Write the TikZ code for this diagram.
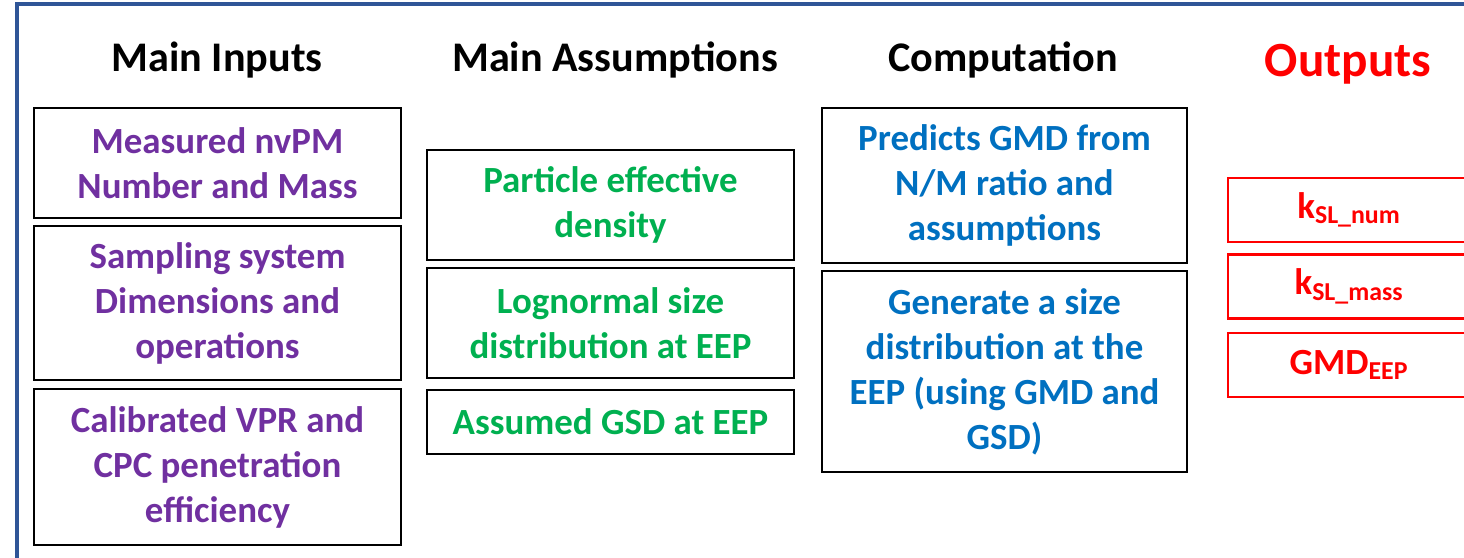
\documentclass[tikz,border=0pt]{standalone}
\usepackage{fontspec}
\setmainfont{Carlito}
\usepackage{tikz}
\usepackage{xcolor}

\definecolor{inpurple}{HTML}{7030A0}
\definecolor{asgreen}{HTML}{00B050}
\definecolor{cpblue}{HTML}{0070C0}
\definecolor{framblue}{HTML}{2F5597}

\tikzset{
  head/.style={font=\fontsize{24}{29}\selectfont\bfseries},
  box/.style={draw, line width=1.2pt, inner sep=0pt, outer sep=0pt, align=center,
    font=\fontsize{21}{25.6}\selectfont\bfseries},
  outbox/.style={box, draw=red, text=red, minimum width=4.84cm, minimum height=1.28cm}
}

\begin{document}
\begin{tikzpicture}
    \useasboundingbox (0,0) rectangle (29.28,11.14);
    %% frame round the slide
    \draw [framblue, line width=2.4pt] (0.34,-0.1) -- (0.34,11.06) -- (29.5,11.06);

    %% column headings
    \node [head] (h1) at (4.34,9.94) {Main Inputs};
    \node [head] (h2) at (12.3,9.94) {Main Assumptions};
    \node [head] (h3) at (20.06,9.94) {Computation};
    \node [head, font=\fontsize{28}{33}\selectfont\bfseries, text=red] (h4) at (26.96,9.86) {Outputs};

    %% inputs
    \node [box, text=inpurple, minimum width=7.34cm, minimum height=2.2cm] (in1) at (4.35,7.88)
      {Measured nvPM\\ Number and Mass};
    \node [box, text=inpurple, minimum width=7.34cm, minimum height=3.08cm] (in2) at (4.35,5.08)
      {Sampling system\\ Dimensions and\\ operations};
    \node [box, text=inpurple, minimum width=7.34cm, minimum height=3.12cm] (in3) at (4.35,1.8)
      {Calibrated VPR and\\ CPC penetration\\ efficiency};

    %% assumptions
    \node [box, text=asgreen, minimum width=7.34cm, minimum height=2.2cm] (as1) at (12.21,7.04)
      {Particle effective\\ density};
    \node [box, text=asgreen, minimum width=7.34cm, minimum height=2.2cm] (as2) at (12.21,4.68)
      {Lognormal size\\ distribution at EEP};
    \node [box, text=asgreen, minimum width=7.34cm, minimum height=1.28cm] (as3) at (12.21,2.7)
      {Assumed GSD at EEP};

    %% computation
    \node [box, text=cpblue, minimum width=7.3cm, minimum height=3.1cm] (cp1) at (20.09,7.43)
      {Predicts GMD from\\ N/M ratio and\\ assumptions};
    \node [box, text=cpblue, minimum width=7.3cm, minimum height=4.02cm] (cp2) at (20.09,3.71)
      {Generate a size\\ distribution at the\\ EEP (using GMD and\\ GSD)};

    %% outputs, cut by the right edge
    \node [outbox] (out1) at (26.98,6.94) {k\textsubscript{SL\_num}};
    \node [outbox] (out2) at (26.98,5.41) {k\textsubscript{SL\_mass}};
    \node [outbox] (out3) at (26.98,3.84) {GMD\textsubscript{EEP}};
\end{tikzpicture}
\end{document}
